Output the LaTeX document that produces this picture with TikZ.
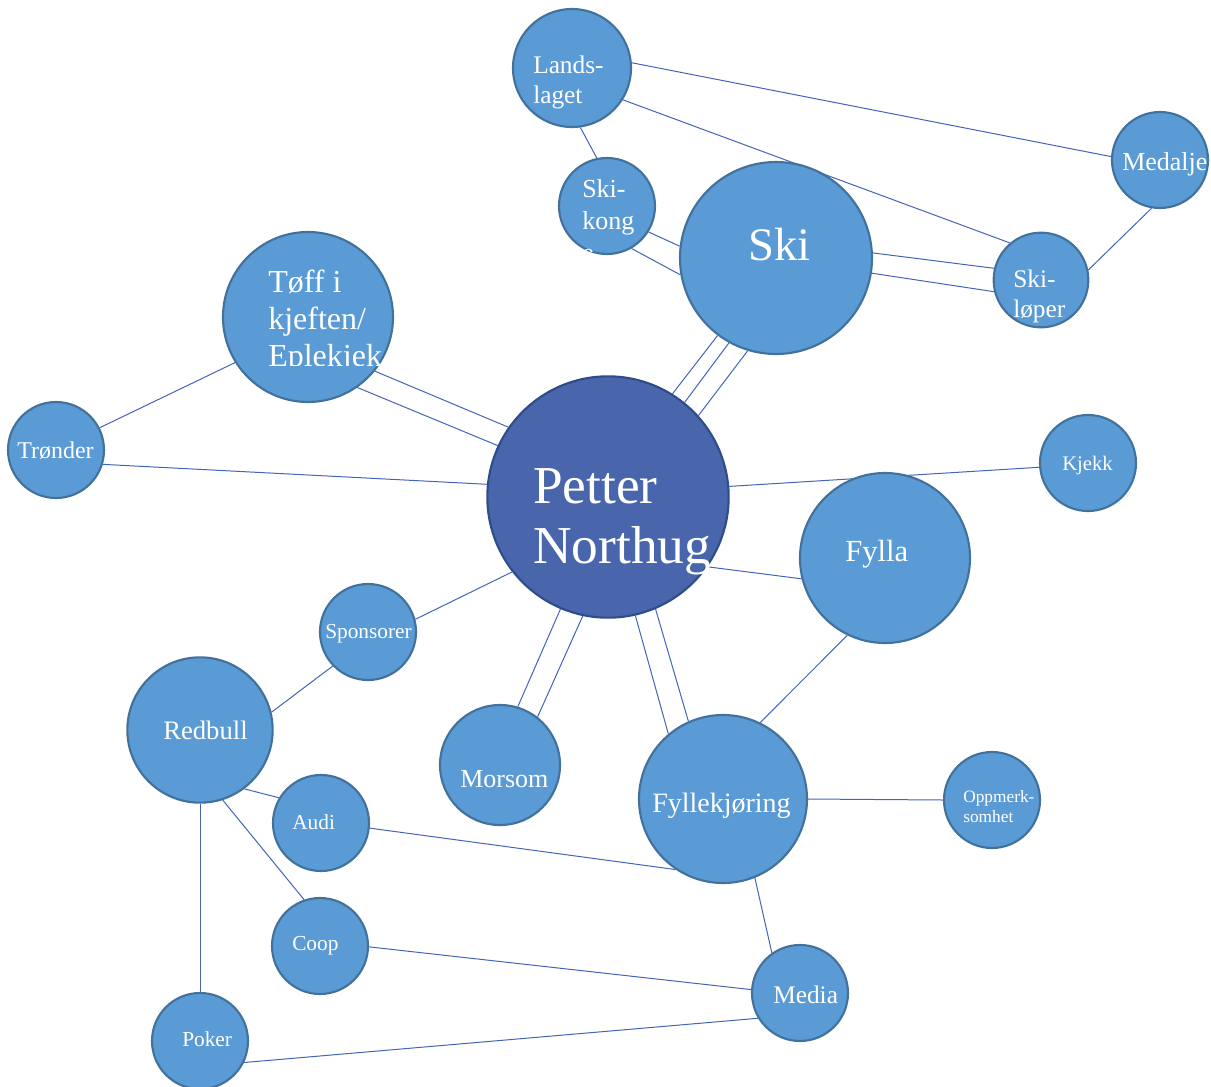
\documentclass[tikz,border=0pt]{standalone}
\usepackage{fontspec}
\setmainfont{Liberation Serif}
\usetikzlibrary{backgrounds}
\definecolor{bubfill}{RGB}{91,155,213}
\definecolor{bubline}{RGB}{65,113,156}
\definecolor{hubfill}{RGB}{73,102,172}
\definecolor{hubline}{RGB}{47,76,138}
\definecolor{linkblue}{RGB}{68,100,184}
\newcommand{\fsz}[2]{\fontsize{#1}{#2}\selectfont}

\begin{document}
\begin{tikzpicture}[x=0.75pt,y=-0.75pt]
  \tikzstyle{bub}=[circle,draw=bubline,fill=bubfill,line width=1.6pt,inner sep=0pt,minimum size=72pt]
  \tikzstyle{hub}=[bub,draw=hubline,fill=hubfill]
  \tikzstyle{txt}=[text=white,inner sep=0pt,anchor=base west,align=left]
  \tikzstyle{edge}=[draw=linkblue,line width=0.75pt]

  \useasboundingbox (0,0) rectangle (1211,1086);

  % circles
  \node [hub,minimum size=181pt] (pn) at (608,497) {};
  \node [bub,minimum size=144pt] (ski) at (776,258) {};
  \node [bub,minimum size=88.5pt] (land) at (572,68) {};
  \node [bub] (skk) at (607,206) {};
  \node [bub] (med) at (1160,160) {};
  \node [bub,minimum size=71pt] (sklp) at (1041,280) {};
  \node [bub,minimum size=127.5pt] (tof) at (308,317) {};
  \node [bub] (trd) at (56,450) {};
  \node [bub] (kje) at (1088,463) {};
  \node [bub,minimum size=127.5pt] (fyl) at (885,558) {};
  \node [bub] (spo) at (368,632) {};
  \node [bub,minimum size=109pt] (rb) at (200,730) {};
  \node [bub,minimum size=90pt] (mor) at (500,765) {};
  \node [bub,minimum size=126pt] (fk) at (723,799) {};
  \node [bub] (opp) at (992,800) {};
  \node [bub] (aud) at (321,823) {};
  \node [bub] (coop) at (320,946) {};
  \node [bub] (mdia) at (800,993) {};
  \node [bub] (pok) at (200,1041) {};

  % texts (base = last line)
  \node [txt,font=\fsz{40}{45}] (pn-t) at (533,563) {Petter\\Northug};
  \node [txt,font=\fsz{35}{40}] (ski-t) at (748,260) {Ski};
  \node [txt,font=\fsz{19}{22.5}] (land-t) at (533,103) {Lands-\\laget};
  \begin{scope}
    \clip (575,160) rectangle (660,251);
    \node [txt,font=\fsz{19.5}{24}] (skk-t) at (582,261) {Ski-\\kong\\e};
  \end{scope}
  \node [txt,font=\fsz{19.5}{22.5}] (med-t) at (1122,170) {Medalje};
  \node [txt,font=\fsz{19}{22.5}] (sklp-t) at (1013,317) {Ski-\\løper};
  \begin{scope}
    \clip (260,250) rectangle (382,365);
    \node [txt,font=\fsz{24}{27.5}] (tof-t) at (268,366) {Tøff i\\kjeften/\\Eplekjeks};
  \end{scope}
  \node [txt,font=\fsz{18}{21}] (trd-t) at (17,458) {Trønder};
  \node [txt,font=\fsz{15.5}{18}] (kje-t) at (1062,470) {Kjekk};
  \node [txt,font=\fsz{23}{26}] (fyl-t) at (845,561) {Fylla};
  \node [txt,font=\fsz{16}{19}] (spo-t) at (325,638) {Sponsorer};
  \node [txt,font=\fsz{20}{23}] (rb-t) at (163,739) {Redbull};
  \node [txt,font=\fsz{19.5}{23}] (mor-t) at (460,787) {Morsom};
  \node [txt,font=\fsz{21}{24}] (fk-t) at (652,812) {Fyllekjøring};
  \node [txt,font=\fsz{13}{15}] (opp-t) at (963,822) {Oppmerk-\\somhet};
  \node [txt,font=\fsz{16}{19}] (aud-t) at (292,829) {Audi};
  \node [txt,font=\fsz{16}{19}] (coop-t) at (292,950) {Coop};
  \node [txt,font=\fsz{16}{19}] (pok-t) at (182,1046) {Poker};
  \node [txt,font=\fsz{19}{22}] (mdia-t) at (773,1003) {Media};

  % connectors
  \begin{scope}[on background layer]
    \path[edge] (land.5) -- (med.176);
    \path[edge] (land.-32) -- (sklp.130);
    \path[edge] (land.-82) -- (skk.102);
    \path[edge] (skk.-32) -- (ski.173);
    \path[edge] (skk.-60) -- (ski.190);
    \path[edge] (ski.3) -- (sklp.166);
    \path[edge] (ski.-9) -- (sklp.194);
    \path[edge] (med.-100) -- (sklp.12);
    \path[edge] (ski.-127) -- (pn.58);
    \path[edge] (ski.-119) -- (pn.51);
    \path[edge] (ski.-107) -- (pn.42);
    \path[edge] (tof.-39) -- (pn.145);
    \path[edge] (tof.-55) -- (pn.155);
    \path[edge] (tof.-148) -- (trd.27);
    \path[edge] (trd.-17) -- (pn.174);
    \path[edge] (pn.5) -- (kje.185);
    \path[edge] (pn.-35) -- (fyl.194);
    \path[edge] (pn.-142) -- (spo.15);
    \path[edge] (pn.-113) -- (mor.73);
    \path[edge] (pn.-102) -- (mor.52);
    \path[edge] (pn.-77) -- (fk.130);
    \path[edge] (pn.-67) -- (fk.114);
    \path[edge] (fyl.-116) -- (fk.64);
    \path[edge] (fk.0) -- (opp.180);
    \path[edge] (spo.-136) -- (rb.14);
    \path[edge] (rb.-53) -- (aud.149);
    \path[edge] (rb.-72) -- (coop.109);
    \path[edge] (rb.-90) -- (pok.90);
    \path[edge] (aud.-6) -- (fk.-124);
    \path[edge] (fk.-68) -- (mdia.125);
    \path[edge] (coop.-1) -- (mdia.176);
    \path[edge] (pok.-26) -- (mdia.-149);
  \end{scope}

\end{tikzpicture}
\end{document}
